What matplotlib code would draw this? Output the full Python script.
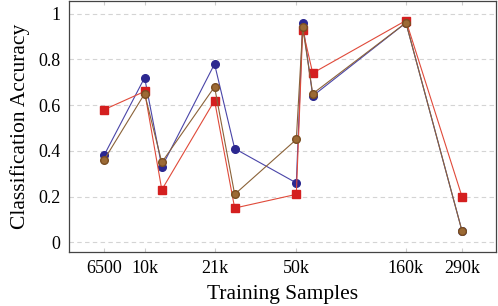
import matplotlib.pyplot as plt
from matplotlib.ticker import FixedLocator, NullLocator

# training sample counts (log-scaled x axis)
samples = [6500, 10000, 12000, 21000, 26000, 50000, 53500, 59500, 160000, 290000]
tick_values = [6500, 10000, 21000, 50000, 160000, 290000]
tick_labels = ["6500", "10k", "21k", "50k", "160k", "290k"]

# accuracy per series
acc_blue = [0.38, 0.72, 0.33, 0.78, 0.41, 0.26, 0.96, 0.64, 0.96, 0.05]
acc_red = [0.58, 0.66, 0.23, 0.62, 0.15, 0.21, 0.93, 0.74, 0.97, 0.20]
acc_brown = [0.36, 0.65, 0.35, 0.68, 0.21, 0.45, 0.94, 0.65, 0.96, 0.05]

plt.rcParams["font.family"] = ["Liberation Serif", "DejaVu Serif"]

fig = plt.figure(figsize=(4.98, 3.06), dpi=100)
ax = fig.add_axes([0.138, 0.178, 0.858, 0.82])

ax.plot(samples, acc_blue, color="#4a45a8", lw=0.8, marker="o", ms=5.5,
        mfc="#2c2890", mec="#2c2890", zorder=3)
ax.plot(samples, acc_red, color="#e04a3a", lw=0.8, marker="s", ms=5.2,
        mfc="#d41f1f", mec="#d41f1f", zorder=4)
ax.plot(samples, acc_brown, color="#8a6238", lw=0.8, marker="o", ms=5.5,
        mfc="#9c6a35", mec="#7a4e22", zorder=5)

ax.set_xscale("log")
ax.set_xlim(4470, 416000)
ax.set_ylim(-0.04, 1.057)
ax.xaxis.set_major_locator(FixedLocator(tick_values))
ax.xaxis.set_minor_locator(NullLocator())
ax.set_xticklabels(tick_labels)
ax.set_yticks([0, 0.2, 0.4, 0.6, 0.8, 1.0])
ax.set_yticklabels(["0", "0.2", "0.4", "0.6", "0.8", "1"])

ax.grid(axis="y", color="#d4d4d4", linestyle=(0, (4, 3)), lw=0.8)
ax.tick_params(axis="both", direction="in", length=3, color="#cccccc",
               top=True, right=False, labelsize=13, pad=6)
ax.tick_params(axis="y", length=0)
for s in ax.spines.values():
    s.set_color("#444444")
    s.set_linewidth(0.9)

ax.set_xlabel("Training Samples", fontsize=15.5, labelpad=6)
ax.set_ylabel("Classification Accuracy", fontsize=15.5, labelpad=6)

fig.savefig("out.png", dpi=100)
